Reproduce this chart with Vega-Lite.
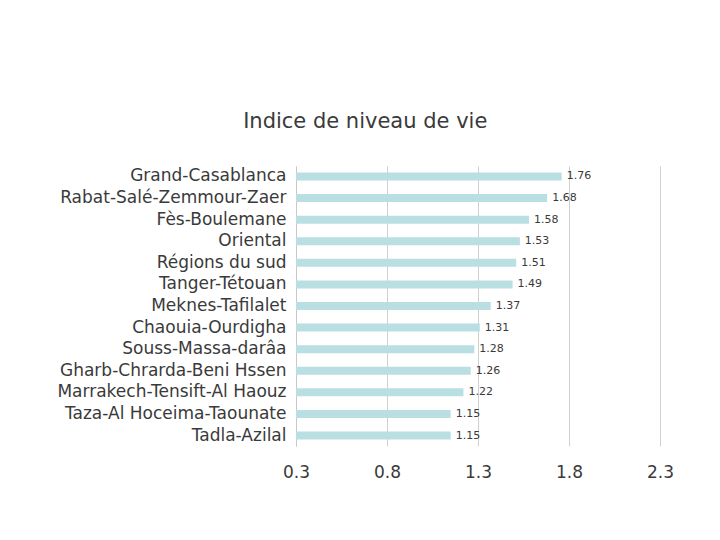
{
  "$schema": "https://vega.github.io/schema/vega-lite/v6.json",
  "width": 364,
  "height": 280,
  "autosize": {"type": "none"},
  "padding": {"left": 296, "top": 166, "right": 60, "bottom": 94},
  "background": "white",
  "title": {
    "text": "Indice de niveau de vie",
    "anchor": "middle",
    "frame": "bounds",
    "font": "DejaVu Sans",
    "fontSize": 21,
    "fontWeight": "normal",
    "color": "#3a3a3a",
    "offset": 34
  },
  "data": {
    "values": [
      {"region": "Grand-Casablanca", "indice": 1.76},
      {"region": "Rabat-Salé-Zemmour-Zaer", "indice": 1.68},
      {"region": "Fès-Boulemane", "indice": 1.58},
      {"region": "Oriental", "indice": 1.53},
      {"region": "Régions du sud", "indice": 1.51},
      {"region": "Tanger-Tétouan", "indice": 1.49},
      {"region": "Meknes-Tafilalet", "indice": 1.37},
      {"region": "Chaouia-Ourdigha", "indice": 1.31},
      {"region": "Souss-Massa-darâa", "indice": 1.28},
      {"region": "Gharb-Chrarda-Beni Hssen", "indice": 1.26},
      {"region": "Marrakech-Tensift-Al Haouz", "indice": 1.22},
      {"region": "Taza-Al Hoceima-Taounate", "indice": 1.15},
      {"region": "Tadla-Azilal", "indice": 1.15}
    ]
  },
  "encoding": {
    "y": {
      "field": "region",
      "type": "nominal",
      "sort": null,
      "scale": {"paddingInner": 0.63, "paddingOuter": 0.3},
      "axis": {
        "title": null,
        "domain": true,
        "domainColor": "#c8c8c8",
        "ticks": false,
        "labelFont": "DejaVu Sans",
        "labelFontSize": 17,
        "labelColor": "#3a3a3a",
        "labelPadding": 10,
        "labelLimit": 300
      }
    }
  },
  "layer": [
    {
      "mark": {"type": "bar", "color": "#b9dfe2"},
      "encoding": {
        "x": {
          "field": "indice",
          "type": "quantitative",
          "scale": {"domain": [0.3, 2.3], "nice": false, "zero": false},
          "axis": {
            "title": null,
            "values": [0.3, 0.8, 1.3, 1.8, 2.3],
            "format": ".1f",
            "domain": false,
            "ticks": false,
            "grid": true,
            "gridColor": "#d0d0d0",
            "labelFlush": false,
            "labelFont": "DejaVu Sans",
            "labelFontSize": 17,
            "labelColor": "#3a3a3a",
            "labelPadding": 18
          }
        },
        "x2": {"datum": 0.3}
      }
    },
    {
      "mark": {"type": "text", "align": "left", "dx": 5, "font": "DejaVu Sans", "fontSize": 11, "color": "#3a3a3a"},
      "encoding": {
        "x": {"field": "indice", "type": "quantitative"},
        "text": {"field": "indice", "type": "quantitative", "format": ".2f"}
      }
    }
  ],
  "config": {"view": {"stroke": null}}
}
